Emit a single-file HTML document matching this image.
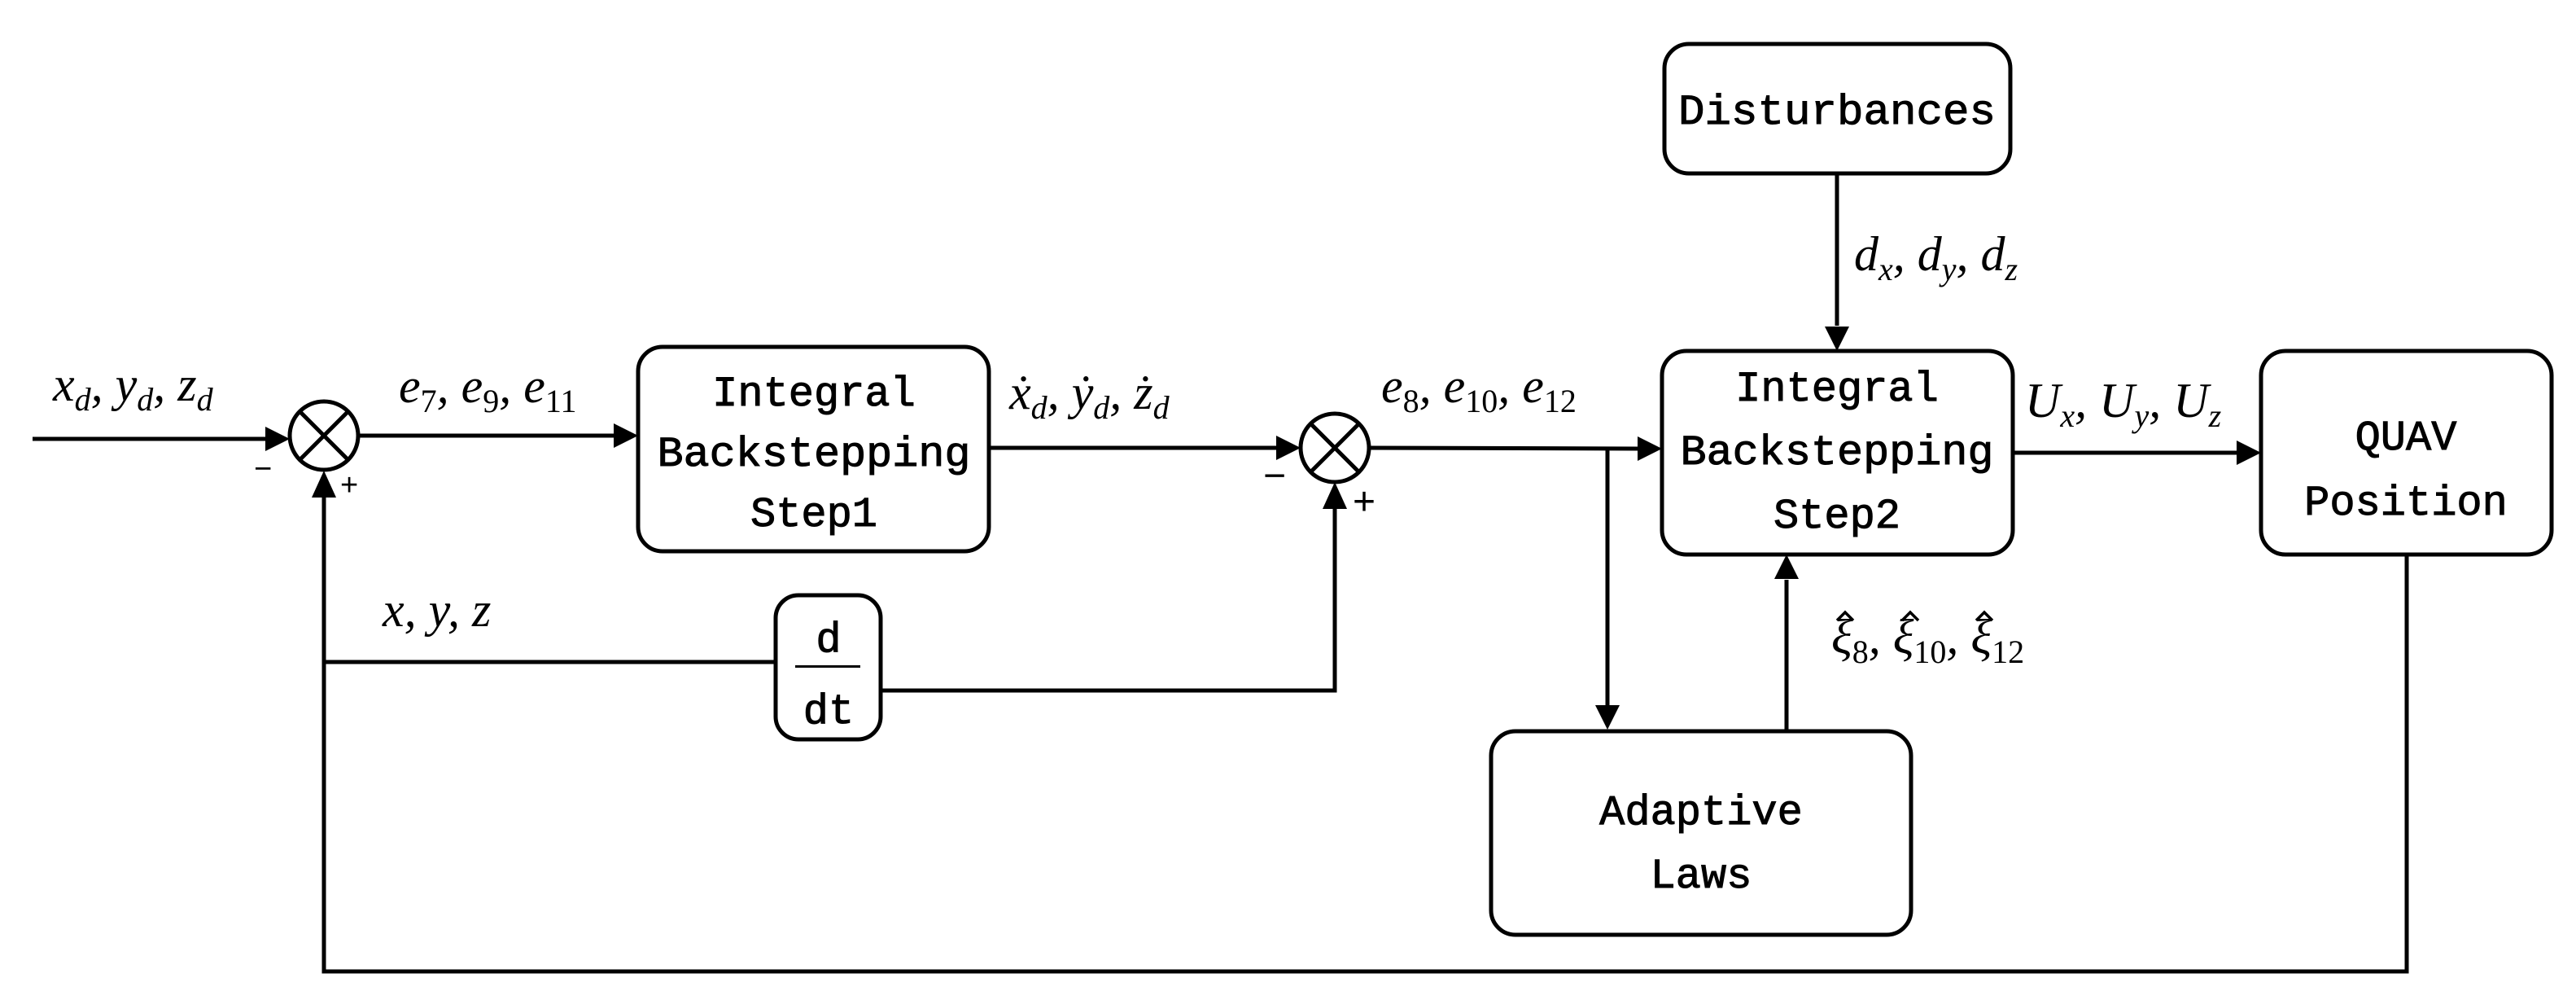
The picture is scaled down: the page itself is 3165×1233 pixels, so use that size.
<!DOCTYPE html>
<html><head><meta charset="utf-8"><style>
html,body{margin:0;padding:0;background:#fff}
svg{display:block}
.b{font-family:"Liberation Mono","Noto Sans CJK SC",monospace;font-size:52px;fill:#000;stroke:#000;stroke-width:1}
.m{font-family:"Liberation Serif",serif;font-style:italic;font-size:60px;fill:#000}
.s{font-size:40px}
.u{font-family:"Liberation Serif",serif;font-style:normal}
</style></head><body>
<svg width="3165" height="1233" viewBox="0 0 3165 1233" xmlns="http://www.w3.org/2000/svg">
<g fill="none" stroke="#000" stroke-width="5">
<rect x="784" y="426" width="431" height="251" rx="30"/>
<rect x="953" y="731" width="129" height="177" rx="28"/>
<rect x="2045" y="54" width="425" height="159" rx="30"/>
<rect x="2042" y="431" width="431" height="250" rx="30"/>
<rect x="2778" y="431" width="357" height="250" rx="30"/>
<rect x="1832" y="898" width="516" height="250" rx="30"/>
<circle cx="398" cy="535" r="42"/>
<line x1="368" y1="505" x2="428" y2="565"/><line x1="428" y1="505" x2="368" y2="565"/>
<circle cx="1640" cy="550" r="42"/>
<line x1="1610" y1="520" x2="1670" y2="580"/><line x1="1670" y1="520" x2="1610" y2="580"/>
<polyline points="40,539 330,539"/>
<polyline points="440,535 755,535"/>
<polyline points="1215,550 1570,550"/>
<polyline points="1682,550 2012,551"/>
<polyline points="1975,551 1975,866"/>
<polyline points="2195,898 2195,712"/>
<polyline points="2257,213 2257,400"/>
<polyline points="2473,556 2748,556"/>
<polyline points="2957,681 2957,1193 398,1193 398,610"/>
<polyline points="398,813 953,813"/>
<polyline points="1082,848 1640,848 1640,624"/>
</g>
<g fill="none" stroke="#000" stroke-width="3.5">
<polyline points="2257,762 2267,752 2277,762"/>
<polyline points="2337,762 2347,752 2357,762"/>
<polyline points="2428,762 2438,752 2448,762"/>
</g>
<g fill="#000">
<polygon points="356,539 326,524 326,554"/>
<polygon points="784,535 754,520 754,550"/>
<polygon points="1598,550 1568,535 1568,565"/>
<polygon points="2042,551 2012,536 2012,566"/>
<polygon points="1975,896 1960,866 1990,866"/>
<polygon points="2195,681 2180,711 2210,711"/>
<polygon points="2257,431 2242,401 2272,401"/>
<polygon points="2778,556 2748,541 2748,571"/>
<polygon points="398,578 383,611 413,611"/>
<polygon points="1640,592 1625,625 1655,625"/>
<rect x="977" y="817" width="80" height="3"/>
</g>
<g class="b" text-anchor="middle">
<text x="1000" y="498">Integral</text>
<text x="1000" y="572" textLength="385" lengthAdjust="spacingAndGlyphs">Backstepping</text>
<text x="1000" y="646">Step1</text>
<text x="1018" y="800">d</text>
<text x="1018" y="888">dt</text>
<text x="2257" y="152" textLength="390" lengthAdjust="spacingAndGlyphs">Disturbances</text>
<text x="2257" y="492">Integral</text>
<text x="2257" y="570" textLength="385" lengthAdjust="spacingAndGlyphs">Backstepping</text>
<text x="2257" y="648">Step2</text>
<text x="2956" y="552">QUAV</text>
<text x="2956" y="632">Position</text>
<text x="2090" y="1012">Adaptive</text>
<text x="2090" y="1090">Laws</text>
</g>
<g class="m">
<text x="65" y="492">x<tspan class="s" dy="12">d</tspan><tspan dy="-12">, y</tspan><tspan class="s" dy="12">d</tspan><tspan dy="-12">, z</tspan><tspan class="s" dy="12">d</tspan></text>
<text x="490" y="494">e<tspan class="s u" dy="12">7</tspan><tspan dy="-12">, e</tspan><tspan class="s u" dy="12">9</tspan><tspan dy="-12">, e</tspan><tspan class="s u" dy="12">11</tspan></text>
<text x="1240" y="502">ẋ<tspan class="s" dy="12">d</tspan><tspan dy="-12">, ẏ</tspan><tspan class="s" dy="12">d</tspan><tspan dy="-12">, ż</tspan><tspan class="s" dy="12">d</tspan></text>
<text x="1697" y="494">e<tspan class="s u" dy="12">8</tspan><tspan dy="-12">, e</tspan><tspan class="s u" dy="12">10</tspan><tspan dy="-12">, e</tspan><tspan class="s u" dy="12">12</tspan></text>
<text x="2278" y="332">d<tspan class="s" dy="12">x</tspan><tspan dy="-12">, d</tspan><tspan class="s" dy="12">y</tspan><tspan dy="-12">, d</tspan><tspan class="s" dy="12">z</tspan></text>
<text x="2488" y="512">U<tspan class="s" dy="12">x</tspan><tspan dy="-12">, U</tspan><tspan class="s" dy="12">y</tspan><tspan dy="-12">, U</tspan><tspan class="s" dy="12">z</tspan></text>
<text x="2250" y="802">ξ<tspan class="s u" dy="12">8</tspan><tspan dy="-12">, ξ</tspan><tspan class="s u" dy="12">10</tspan><tspan dy="-12">, ξ</tspan><tspan class="s u" dy="12">12</tspan></text>
<text x="470" y="769">x, y, z</text>
</g>
<g font-family="Liberation Sans,sans-serif" font-size="38" fill="#000">
<text x="312" y="588">−</text>
<text x="418" y="608">+</text>
<text x="1552" y="600" font-size="48">−</text>
<text x="1662" y="632" font-size="48">+</text>
</g>
</svg>
</body></html>
